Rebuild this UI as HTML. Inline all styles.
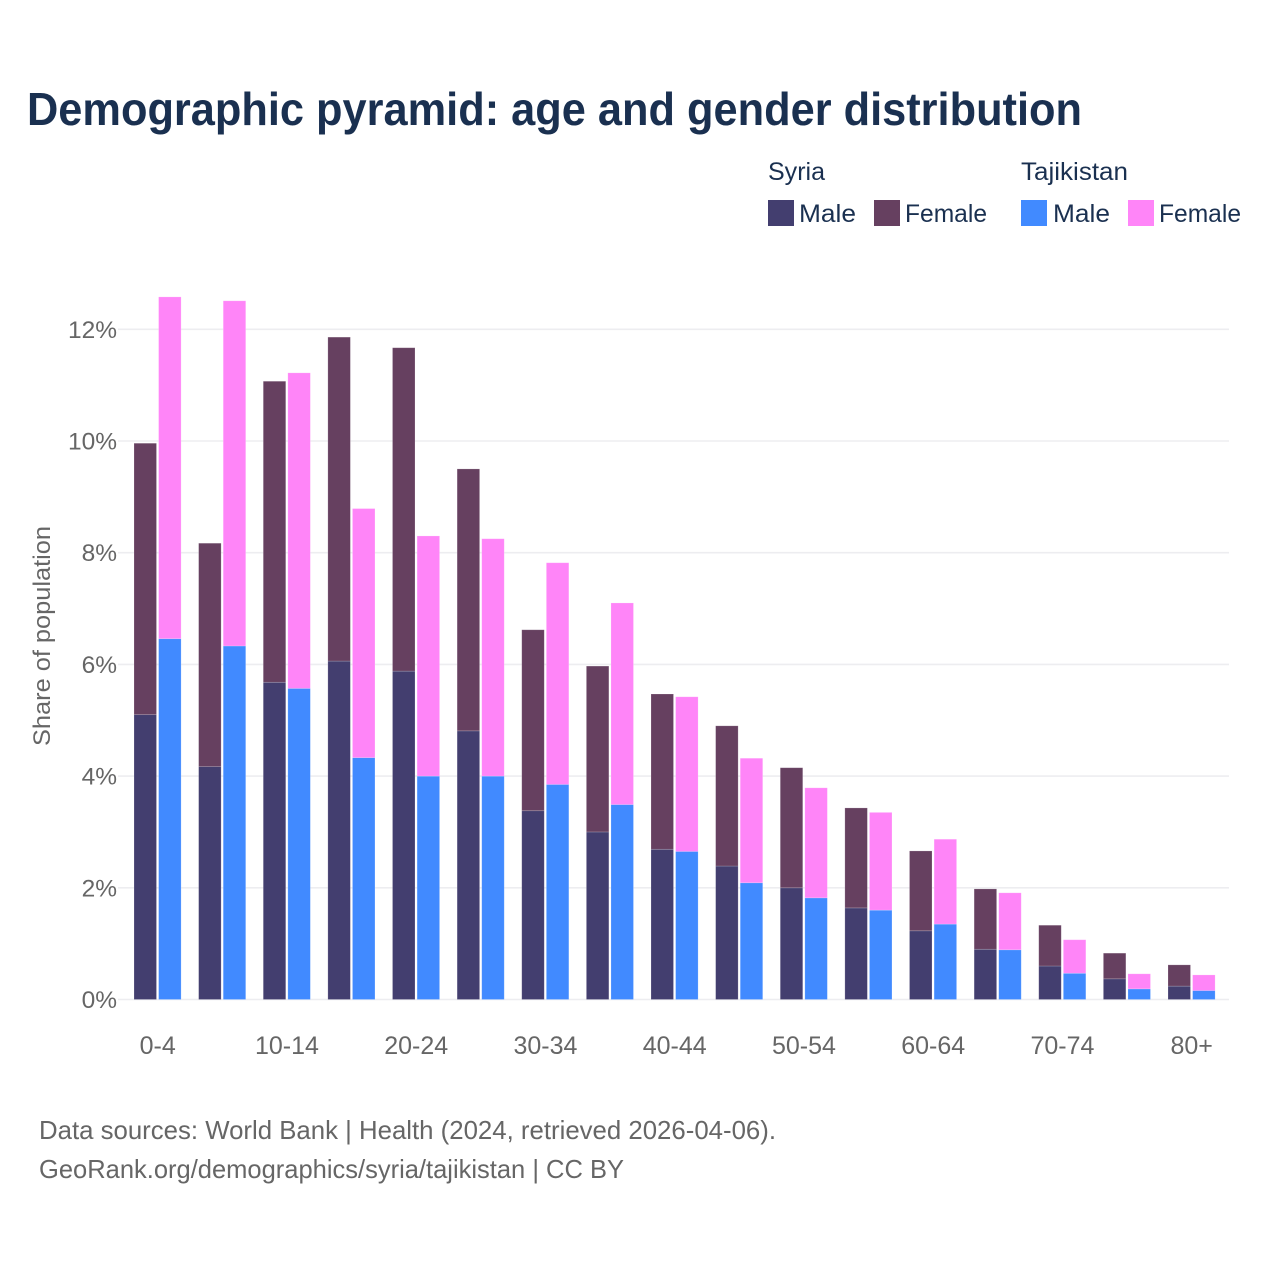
<!DOCTYPE html>
<html lang="en">
<head>
<meta charset="utf-8">
<title>Demographic pyramid</title>
<style>
html,body{margin:0;padding:0;background:#fff;}
svg{display:block;font-family:"Liberation Sans",sans-serif;}
</style>
</head>
<body>
<svg id="chart" width="1280" height="1280" viewBox="0 0 1280 1280" xmlns="http://www.w3.org/2000/svg">
  <rect width="1280" height="1280" fill="#fff"/>
  <text x="27" y="125" font-size="46" font-weight="700" fill="#1a3050" textLength="1055" lengthAdjust="spacingAndGlyphs">Demographic pyramid: age and gender distribution</text>

  <g font-size="25" fill="#1a3050">
    <text x="768" y="180" textLength="57" lengthAdjust="spacingAndGlyphs">Syria</text>
    <text x="1021" y="180" textLength="107" lengthAdjust="spacingAndGlyphs">Tajikistan</text>
    <rect x="768" y="200" width="26" height="26" fill="#433e6f"/>
    <text x="799" y="222" textLength="57" lengthAdjust="spacingAndGlyphs">Male</text>
    <rect x="874" y="200" width="26" height="26" fill="#664060"/>
    <text x="905" y="222" textLength="82" lengthAdjust="spacingAndGlyphs">Female</text>
    <rect x="1021" y="200" width="26" height="26" fill="#418aff"/>
    <text x="1053" y="222" textLength="57" lengthAdjust="spacingAndGlyphs">Male</text>
    <rect x="1128" y="200" width="26" height="26" fill="#ff85f8"/>
    <text x="1159" y="222" textLength="82" lengthAdjust="spacingAndGlyphs">Female</text>
  </g>

  <g id="grid"></g>
  <g id="yticks"></g>
  <g id="bars"></g>
  <g id="xticks"></g>

  <text transform="translate(50,636) rotate(-90)" text-anchor="middle" font-size="24" fill="#666666" textLength="220" lengthAdjust="spacingAndGlyphs">Share of population</text>

  <text x="39" y="1139" font-size="26" fill="#666666" textLength="737" lengthAdjust="spacingAndGlyphs">Data sources: World Bank | Health (2024, retrieved 2026-04-06).</text>
  <text x="39" y="1178" font-size="26" fill="#666666" textLength="585" lengthAdjust="spacingAndGlyphs">GeoRank.org/demographics/syria/tajikistan | CC BY</text>
</svg>
<script>
const categories = ['0-4','5-9','10-14','15-19','20-24','25-29','30-34','35-39','40-44','45-49','50-54','55-59','60-64','65-69','70-74','75-79','80+'];
const syriaMale = [5.10,4.17,5.68,6.06,5.88,4.81,3.38,3.00,2.69,2.39,2.00,1.64,1.23,0.90,0.60,0.37,0.24];
const syriaFemale = [4.86,4.00,5.39,5.80,5.79,4.69,3.24,2.97,2.78,2.51,2.15,1.79,1.43,1.08,0.73,0.46,0.38];
const tajikistanMale = [6.46,6.33,5.57,4.33,4.00,4.00,3.85,3.49,2.65,2.09,1.82,1.60,1.35,0.89,0.47,0.19,0.16];
const tajikistanFemale = [6.12,6.18,5.65,4.46,4.30,4.25,3.97,3.61,2.77,2.23,1.97,1.75,1.52,1.02,0.60,0.27,0.28];
const yTicks = [0,2,4,6,8,10,12];

const NS = 'http://www.w3.org/2000/svg';
const plotLeft = 118, plotRight = 1229, zeroY = 999.5, pxPerPct = 55.85;
const firstBarX = 134, groupStep = 64.625, barW = 22.5, barGap = 24.6;

function yScale(v) { return zeroY - v * pxPerPct; }
function groupX(i) { return firstBarX + i * groupStep; }
function svgEl(tag, attrs) {
  const el = document.createElementNS(NS, tag);
  for (const k in attrs) el.setAttribute(k, attrs[k]);
  return el;
}

const grid = document.getElementById('grid');
const yGroup = document.getElementById('yticks');
yTicks.forEach(function (t) {
  const line = svgEl('line', {x1: plotLeft, x2: plotRight, y1: yScale(t), y2: yScale(t), stroke: '#ededf0', 'stroke-width': 1.6});
  
  
  grid.appendChild(line);
  const label = svgEl('text', {x: 117, y: yScale(t) + 8.5, 'text-anchor': 'end', 'font-size': 24.5, fill: '#666666'});
  label.textContent = t + '%';
  
  
  yGroup.appendChild(label);
});

const bars = document.getElementById('bars');
function drawStack(i, offset, male, female, maleColor, femaleColor, country) {
  const x = groupX(i) + offset;
  const mTop = yScale(male);
  const fTop = yScale(male + female);
  const m = svgEl('rect', {x: x, y: mTop, width: barW, height: zeroY - mTop, fill: maleColor, stroke: '#ffffff', 'stroke-opacity': 0.25, 'stroke-width': 0.7});
  
  
  bars.appendChild(m);
  const f = svgEl('rect', {x: x, y: fTop, width: barW, height: mTop - fTop, fill: femaleColor, stroke: '#ffffff', 'stroke-opacity': 0.25, 'stroke-width': 0.7});
  
  
  bars.appendChild(f);
}
categories.forEach(function (c, i) {
  drawStack(i, 0, syriaMale[i], syriaFemale[i], '#433e6f', '#664060', 'syria');
  drawStack(i, barGap, tajikistanMale[i], tajikistanFemale[i], '#418aff', '#ff85f8', 'tajikistan');
});

const xGroup = document.getElementById('xticks');
categories.forEach(function (c, i) {
  if (i % 2 !== 0) return;
  const label = svgEl('text', {x: groupX(i) + 23.7, y: 1054, 'text-anchor': 'middle', 'font-size': 25, fill: '#666666'});
  label.textContent = c;
  
  
  xGroup.appendChild(label);
});
</script>
</body>
</html>
